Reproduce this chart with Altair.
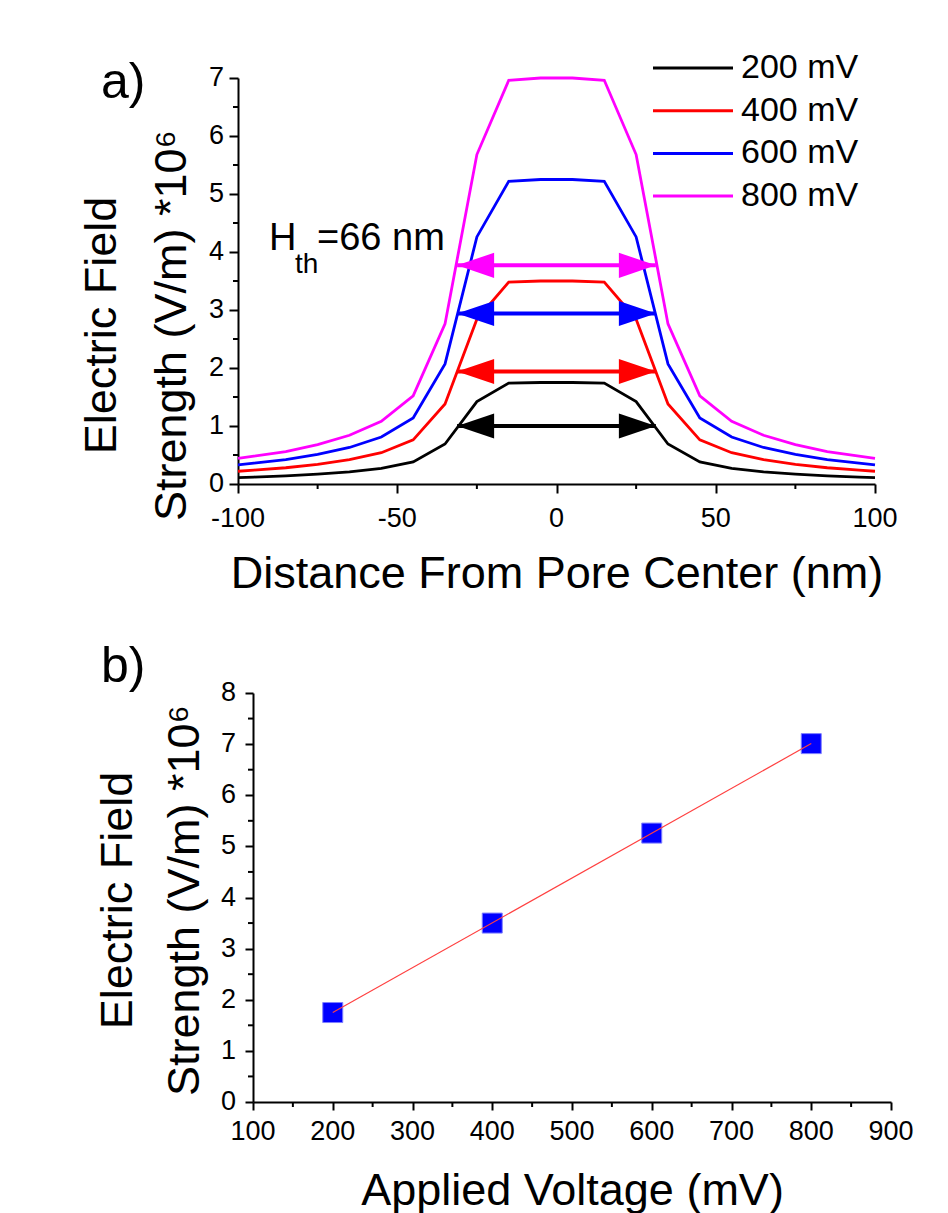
import altair as alt
import pandas as pd

FONT = "Liberation Sans"

# ---------------- Panel a) data ----------------
distance_nm = [-100, -95, -85, -75, -65, -55, -45, -35, -25, -15, -5,
               5, 15, 25, 35, 45, 55, 65, 75, 85, 95, 100]
field_200 = [0.11, 0.12, 0.14, 0.17, 0.21, 0.27, 0.38, 0.69, 1.42, 1.74, 1.75,
             1.75, 1.74, 1.42, 0.69, 0.38, 0.27, 0.21, 0.17, 0.14, 0.12, 0.11]
field_400 = [0.22, 0.24, 0.28, 0.34, 0.42, 0.54, 0.76, 1.38, 2.84, 3.48, 3.50,
             3.50, 3.48, 2.84, 1.38, 0.76, 0.54, 0.42, 0.34, 0.28, 0.24, 0.22]
field_600 = [0.33, 0.36, 0.42, 0.51, 0.63, 0.81, 1.14, 2.07, 4.26, 5.22, 5.25,
             5.25, 5.22, 4.26, 2.07, 1.14, 0.81, 0.63, 0.51, 0.42, 0.36, 0.33]
field_800 = [0.44, 0.48, 0.56, 0.68, 0.84, 1.08, 1.52, 2.76, 5.68, 6.96, 7.00,
             7.00, 6.96, 5.68, 2.76, 1.52, 1.08, 0.84, 0.68, 0.56, 0.48, 0.44]
series_labels = ["200 mV", "400 mV", "600 mV", "800 mV"]
series_colors = ["#000000", "#ff0000", "#0000ff", "#ff00ff"]

# threshold-width arrows (H_th = 66 nm)
arrow_y = [1.00, 1.94, 2.94, 3.77]
arrow_half_nm = 31.2

a_x_ticks = [-100, -50, 0, 50, 100]
a_x_minor = [-75, -25, 25, 75]
a_y_ticks = [0, 1, 2, 3, 4, 5, 6, 7]
a_y_minor = [0.5, 1.5, 2.5, 3.5, 4.5, 5.5, 6.5]

# ---------------- Panel b) data ----------------
voltage_mv = [200, 400, 600, 800]
peak_field = [1.75, 3.50, 5.26, 7.01]
b_x_ticks = [100, 200, 300, 400, 500, 600, 700, 800, 900]
b_x_minor = [150, 250, 350, 450, 550, 650, 750, 850]
b_y_ticks = [0, 1, 2, 3, 4, 5, 6, 7, 8]
b_y_minor = [0.5, 1.5, 2.5, 3.5, 4.5, 5.5, 6.5, 7.5]

# ---------------- layout constants ----------------
A_W, A_H = 637, 406
B_SHIFT = 15
B_W, B_H = 638 + B_SHIFT, 409
LABEL_SIZE = 27

color_scale = alt.Scale(domain=series_labels, range=series_colors)

series_vals = [field_200, field_400, field_600, field_800]
rows = []
for lab, vals in zip(series_labels, series_vals):
    for x, y in zip(distance_nm, vals):
        rows.append({"x": x, "y": y, "series": lab})
curves_df = pd.DataFrame(rows)

axis_common = dict(
    domainColor="#000000", domainWidth=2, tickColor="#000000", tickWidth=2,
    labels=False,
    titleFont=FONT, titleColor="#000000", titleFontSize=45, titleFontWeight="normal",
    grid=False,
)

a_xscale = alt.Scale(domain=[-100, 100], nice=False, zero=False)
a_yscale = alt.Scale(domain=[0, 7], nice=False)

a_xaxis = alt.Axis(values=a_x_ticks, title="Distance From Pore Center (nm)",
                   tickSize=9, titleBaseline="alphabetic",
                   titleY=103, **axis_common)
a_yaxis = alt.Axis(values=a_y_ticks, title=["Electric Field", "Strength (V/m) *10⁶"],
                   tickSize=9, titleAngle=270, titleAlign="center",
                   titleBaseline="alphabetic", titleX=-123, titleY=247,
                   titleLineHeight=70, **axis_common)


def AX(field):
    return alt.X(field, type="quantitative", scale=a_xscale, axis=a_xaxis)


def AY(field):
    return alt.Y(field, type="quantitative", scale=a_yscale, axis=a_yaxis)


def tick_text(values):
    return pd.DataFrame({"v": values, "t": [str(v) for v in values]})


sel_color = alt.Color("series:N", scale=color_scale, legend=None)

curves = alt.Chart(curves_df).mark_line(strokeWidth=2.8).encode(
    x=AX("x"), y=AY("y"), color=sel_color, detail="series:N",
)

arrows_df = pd.DataFrame({
    "series": series_labels,
    "y": arrow_y,
    "x1": [-arrow_half_nm] * 4,
    "x2": [arrow_half_nm] * 4,
})
shafts = alt.Chart(arrows_df).mark_rule(strokeWidth=4).encode(
    x=AX("x1"), x2="x2:Q", y=AY("y"), color=sel_color,
)
HEAD = 37
left_heads = alt.Chart(arrows_df).mark_point(
    shape="M-1,0L1,-0.68L1,0.68Z", size=HEAD * HEAD, filled=True, opacity=1,
    xOffset=HEAD / 2,
).encode(x=AX("x1"), y=AY("y"), color=sel_color)
right_heads = alt.Chart(arrows_df).mark_point(
    shape="M1,0L-1,-0.68L-1,0.68Z", size=HEAD * HEAD, filled=True, opacity=1,
    xOffset=-HEAD / 2,
).encode(x=AX("x2"), y=AY("y"), color=sel_color)

a_xminor = alt.Chart(pd.DataFrame({"x": a_x_minor})).mark_rule(color="black", strokeWidth=2).encode(
    x=AX("x"), y=alt.value(A_H), y2=alt.value(A_H + 5))
a_yminor = alt.Chart(pd.DataFrame({"y": a_y_minor})).mark_rule(color="black", strokeWidth=2).encode(
    y=AY("y"), x=alt.value(0), x2=alt.value(-5))

a_xlabels = alt.Chart(tick_text(a_x_ticks)).mark_text(
    align="center", baseline="alphabetic", font=FONT, fontSize=LABEL_SIZE, color="black"
).encode(x=AX("v"), y=alt.value(A_H + 43), text="t:N")
a_ylabels = alt.Chart(tick_text(a_y_ticks)).mark_text(
    align="right", baseline="middle", font=FONT, fontSize=LABEL_SIZE, color="black"
).encode(y=AY("v"), x=alt.value(-14), text="t:N")

legend_layers = []
for i, lab in enumerate(series_labels):
    ldf = pd.DataFrame({"series": [lab]})
    yy = -10 + 42.7 * i
    legend_layers.append(alt.Chart(ldf).mark_rule(strokeWidth=3).encode(
        x=alt.value(415), x2=alt.value(495), y=alt.value(yy), color=sel_color))
    legend_layers.append(alt.Chart(ldf).mark_text(
        align="left", baseline="middle", font=FONT, fontSize=34, color="black").encode(
        x=alt.value(503), y=alt.value(yy), text="series:N"))


def label(txt, x, y, size, baseline="alphabetic"):
    return alt.Chart(pd.DataFrame({"t": [txt]})).mark_text(
        align="left", baseline=baseline, font=FONT, fontSize=size, color="black"
    ).encode(x=alt.value(x), y=alt.value(y), text="t:N")


a_label = label("a)", -137, 20, 50)
h_main = label("H", 31, 172, 38)
h_sub = label("th", 57, 195, 28)
h_rest = label("=66 nm", 79, 172, 38)

top = alt.layer(curves, shafts, left_heads, right_heads, a_xminor, a_yminor,
                a_xlabels, a_ylabels,
                *legend_layers, a_label, h_main, h_sub, h_rest).properties(
    width=A_W, height=A_H)

# ---------------- Panel b) ----------------
b_df = pd.DataFrame({"voltage": voltage_mv, "field": peak_field})
b_xscale = alt.Scale(domain=[100, 900], nice=False, zero=False, range=[B_SHIFT, B_W])
b_yscale = alt.Scale(domain=[0, 8], nice=False)

b_xaxis = alt.Axis(values=b_x_ticks, title="Applied Voltage (mV)", tickSize=8,
                   titleBaseline="alphabetic", titleY=102, **axis_common)
b_yaxis = alt.Axis(values=b_y_ticks, title=["Electric Field", "Strength (V/m) *10⁶"],
                   tickSize=8, offset=-B_SHIFT, titleAngle=270,
                   titleAlign="center", titleBaseline="alphabetic", titleX=-122,
                   titleY=207, titleLineHeight=67, **axis_common)


def BX(field):
    return alt.X(field, type="quantitative", scale=b_xscale, axis=b_xaxis)


def BY(field):
    return alt.Y(field, type="quantitative", scale=b_yscale, axis=b_yaxis)


squares = alt.Chart(b_df).mark_square(size=400, color="#0000ff", stroke="#7f7fff",
                                      strokeWidth=1, opacity=1).encode(
    x=BX("voltage"), y=BY("field"),
)
fit = alt.Chart(b_df).transform_regression("voltage", "field").mark_line(
    color="#ff4040", strokeWidth=1.2).encode(x=BX("voltage"), y=BY("field"))

b_xminor = alt.Chart(pd.DataFrame({"voltage": b_x_minor})).mark_rule(color="black", strokeWidth=2).encode(
    x=BX("voltage"), y=alt.value(B_H), y2=alt.value(B_H + 5))
b_yminor = alt.Chart(pd.DataFrame({"field": b_y_minor})).mark_rule(color="black", strokeWidth=2).encode(
    y=BY("field"), x=alt.value(B_SHIFT), x2=alt.value(B_SHIFT - 5))

b_xlabels = alt.Chart(tick_text(b_x_ticks)).mark_text(
    align="center", baseline="alphabetic", font=FONT, fontSize=LABEL_SIZE, color="black"
).encode(x=BX("v"), y=alt.value(B_H + 38), text="t:N")
b_ylabels = alt.Chart(tick_text(b_y_ticks)).mark_text(
    align="right", baseline="middle", font=FONT, fontSize=LABEL_SIZE, color="black"
).encode(y=BY("v"), x=alt.value(B_SHIFT - 17), text="t:N")

b_label = label("b)", -137, -11, 50)

bottom = alt.layer(squares, fit, b_xminor, b_yminor, b_xlabels, b_ylabels,
                   b_label).properties(width=B_W, height=B_H)

chart = alt.vconcat(top, bottom, spacing=46).properties(
    padding={"left": 79, "top": 51, "right": 0, "bottom": 0},
    background="white",
).configure_view(stroke=None)

chart.save("out.html", embed_options={"renderer": "svg", "actions": False})
